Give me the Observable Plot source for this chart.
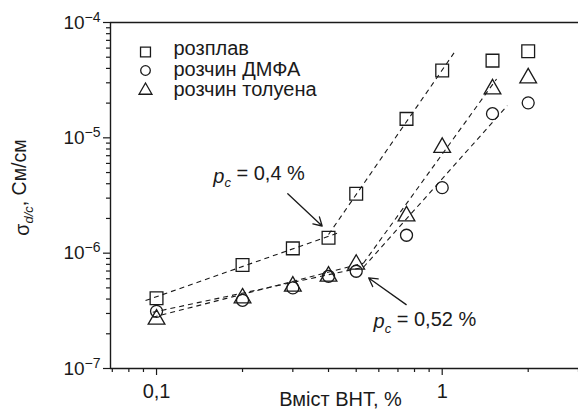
<!DOCTYPE html>
<html><head><meta charset="utf-8">
<script src="https://cdn.jsdelivr.net/npm/d3@7"></script>
<script src="https://cdn.jsdelivr.net/npm/@observablehq/plot@0.6"></script>
<style>body{margin:0;background:#fff} #chart svg{display:block}</style>
</head><body><div id="chart"></div>
<script>
// ---- data ----
const contentValues = [0.1, 0.2, 0.3, 0.4, 0.5, 0.75, 1, 1.5, 2];
const meltValues    = [4.06e-7, 7.9e-7, 1.10e-6, 1.36e-6, 3.28e-6, 1.46e-5, 3.83e-5, 4.67e-5, 5.63e-5];
const dmfaValues    = [3.13e-7, 3.9e-7, 5.0e-7, 6.3e-7, 6.97e-7, 1.43e-6, 3.7e-6, 1.62e-5, 2.01e-5];
const tolueneValues = [2.67e-7, 4.08e-7, 5.16e-7, 6.3e-7, 8.0e-7, 2.1e-6, 8.24e-6, 2.65e-5, 3.3e-5];
const seriesNames = ["розплав", "розчин ДМФА", "розчин толуена"];
const seriesSymbols = ["square", "circle", "triangle"];

// dashed fit segments [x1, y1, x2, y2]
const fitMeltLow   = [0.0915, 3.88e-7, 0.433, 1.50e-6];
const fitMeltHigh  = [0.40, 1.45e-6, 1.10, 5.45e-5];
const fitDmfaLow   = [0.097, 3.07e-7, 0.53, 7.55e-7];
const fitDmfaHigh  = [0.53, 7.55e-7, 1.69, 1.90e-5];
const fitTolLow    = [0.097, 2.78e-7, 0.53, 8.18e-7];
const fitTolHigh   = [0.53, 8.18e-7, 1.55, 3.24e-5];

// annotations
const annotTexts = ["p_c = 0,4 %", "p_c = 0,52 %"];
const annotX = [0.158, 0.575];
const annotY = [4.08e-6, 2.24e-7];
const arrowFrom = [[0.288, 3.28e-6], [0.748, 3.58e-7]];
const arrowTo   = [[0.380, 1.72e-6], [0.553, 6.1e-7]];

// axes
const xDomain = [0.069, 3];
const yDomain = [1e-7, 1e-4];
const xMajorTicks = [0.1, 1];
const xTickLabels = ["0,1", "1"];
const xMinorTicks = [0.07, 0.08, 0.09, 0.2, 0.3, 0.4, 0.5, 0.6, 0.7, 0.8, 0.9, 2, 3];
const yMajorTicks = [1e-7, 1e-6, 1e-5, 1e-4];
const yTickLabels = ["10^−7", "10^−6", "10^−5", "10^−4"];
const yMinorTicks = [];
[1e-7, 1e-6, 1e-5].forEach(d => { for (let k = 2; k <= 9; k++) yMinorTicks.push(d * k); });
const xLabel = "Вміст ВНТ, %";
const yLabel = "σ_d/c, См/см";

// ---- build ----
const seriesValues = [meltValues, dmfaValues, tolueneValues];
const seriesR = [7.2, 6.0, 6.2];
const legendR = [5.6, 4.8, 4.8];
const fits = [fitMeltLow, fitMeltHigh, fitDmfaLow, fitDmfaHigh, fitTolLow, fitTolHigh]
  .map(([x1, y1, x2, y2]) => ({x1, y1, x2, y2}));
const annots = annotTexts.map((t, i) => ({t, x: annotX[i], y: annotY[i]}));
const arrows = arrowFrom.map((f, i) => ({x1: f[0], y1: f[1], x2: arrowTo[i][0], y2: arrowTo[i][1]}));

const font = "'Liberation Sans', Arial, Helvetica, sans-serif";
const ink = "#1a1a1a";

const seriesMarks = seriesValues.map((vals, s) =>
  Plot.dot(contentValues.map((x, i) => ({x, y: vals[i]})), {x: "x", y: "y", symbol: seriesSymbols[s],
    r: seriesR[s], stroke: ink, strokeWidth: 1.3, fill: "none"}));

const legendSymDy = [29.5, 48, 68];
const legendTextDy = [26.5, 47, 67.5];
const legendMarks = seriesNames.flatMap((name, i) => [
  Plot.dot([0], {frameAnchor: "top-left", dx: 35, dy: legendSymDy[i], symbol: seriesSymbols[i],
    r: legendR[i], stroke: ink, strokeWidth: 1.3, fill: "none"}),
  Plot.text([name], {frameAnchor: "top-left", dx: 63, dy: legendTextDy[i], text: d => d,
    textAnchor: "start", lineAnchor: "middle", fontSize: 20, fill: ink})
]);

const plot = Plot.plot({
  width: 578, height: 410,
  marginLeft: 110, marginRight: 0, marginTop: 22, marginBottom: 42,
  style: {fontFamily: font, fontSize: "19px", color: ink, background: "#fff", overflow: "visible"},
  x: {type: "log", domain: xDomain},
  y: {type: "log", domain: yDomain},
  marks: [
    Plot.ruleY([yDomain[1]], {stroke: ink, strokeWidth: 1.4}),
    Plot.ruleY([yDomain[0]], {stroke: ink, strokeWidth: 1.4}),
    Plot.ruleX([xDomain[0]], {stroke: ink, strokeWidth: 1.4}),
    Plot.axisY(yMinorTicks, {tickSize: 4, tickFormat: () => "", label: null, stroke: ink, strokeWidth: 1.2}),
    Plot.axisY(yMajorTicks, {tickSize: 7, tickPadding: 3, tickFormat: d => yTickLabels[yMajorTicks.indexOf(d)],
      label: null, stroke: ink, strokeWidth: 1.2, fontSize: 19}),
    Plot.axisX(xMinorTicks, {tickSize: 4, tickFormat: () => "", label: null, stroke: ink, strokeWidth: 1.2}),
    Plot.axisX(xMajorTicks, {tickSize: 7, tickPadding: 8, tickFormat: d => xTickLabels[xMajorTicks.indexOf(d)],
      label: null, stroke: ink, strokeWidth: 1.2, fontSize: 20}),
    Plot.text([xLabel], {frameAnchor: "bottom", dx: -4, dy: 37, text: d => d, lineAnchor: "bottom", fontSize: 20, fill: ink}),
    Plot.text([yLabel], {frameAnchor: "left", dx: -88, dy: -8, text: d => d, rotate: -90, textAnchor: "middle",
      lineAnchor: "middle", fontSize: 19.5, fill: ink}),
    Plot.link(fits, {x1: "x1", y1: "y1", x2: "x2", y2: "y2", stroke: ink, strokeWidth: 1.1, strokeDasharray: "5,4"}),
    ...seriesMarks,
    Plot.arrow(arrows, {x1: "x1", y1: "y1", x2: "x2", y2: "y2", stroke: ink, strokeWidth: 1.3, headLength: 11, bend: 0}),
    Plot.text(annots, {x: "x", y: "y", text: "t", textAnchor: "start", lineAnchor: "bottom", fontSize: 20, fill: ink}),
    ...legendMarks
  ]
});
document.getElementById("chart").appendChild(plot);

// ---- rich text post-processing ----
const svg = d3.select(plot);
svg.selectAll("text").each(function() {
  const el = d3.select(this);
  const t = this.textContent;
  if (/^10\^/.test(t)) {
    const [base, exp] = t.split("^");
    el.text(null);
    el.append("tspan").text(base);
    el.append("tspan").attr("dy", "-0.5em").attr("font-size", "14px").text(exp);
  } else if (t.includes("_")) {
    const [main, rest] = t.split("_");
    let sub, tail;
    if (rest.startsWith("c ")) { sub = "c"; tail = rest.slice(1); }
    else { const j = rest.indexOf(","); sub = rest.slice(0, j); tail = rest.slice(j); }
    const isP = main === "p";
    el.text(null);
    el.append("tspan").attr("font-style", isP ? "italic" : null).text(main);
    el.append("tspan").attr("font-style", "italic").attr("font-size", "13px").attr("dy", "0.35em").text(sub);
    el.append("tspan").attr("dy", "-0.35em").text(tail);
  }
});
</script>
</body></html>
